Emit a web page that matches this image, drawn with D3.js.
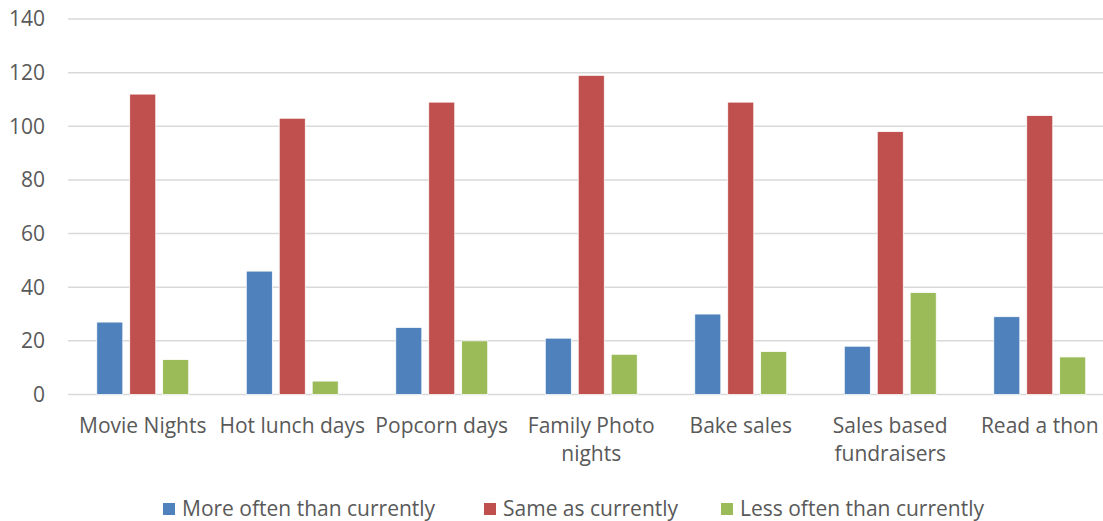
<!DOCTYPE html>
<html>
<head>
<meta charset="utf-8">
<script src="https://cdn.jsdelivr.net/npm/d3@7"></script>
<style>
  body { margin: 0; background: #fff; }
  text { font-family: "Open Sans", "Noto Sans", sans-serif; fill: #595959; }
</style>
</head>
<body>
<div id="chart"></div>
<script>
// data
var categories = ["Movie Nights", "Hot lunch days", "Popcorn days", "Family Photo nights", "Bake sales", "Sales based fundraisers", "Read a thon"];
var seriesNames = ["More often than currently", "Same as currently", "Less often than currently"];
var moreOften = [27, 46, 25, 21, 30, 18, 29];
var sameAs = [112, 103, 109, 119, 109, 98, 104];
var lessOften = [13, 5, 20, 15, 16, 38, 14];
var yTicks = [0, 20, 40, 60, 80, 100, 120, 140];
var colors = ["#4f81bd", "#c0504d", "#9bbb59"];

var seriesValues = [moreOften, sameAs, lessOften];

var W = 1103, H = 521;
var svg = d3.select("#chart").append("svg")
  .attr("width", W).attr("height", H);

// plot area (right edge runs past the window like the original crop)
var plotL = 68, plotR = 1114.5, plotT = 19, plotB = 394.5;

var x = d3.scaleBand().domain(categories).range([plotL, plotR])
  .paddingInner(0.385).paddingOuter(0.1925);
var xs = d3.scaleBand().domain(d3.range(3)).range([0, x.bandwidth()]).paddingInner(0.21);
var y = d3.scaleLinear().domain([0, 140]).range([plotB, plotT]);

// gridlines
svg.append("g").selectAll("line").data(yTicks).enter().append("line")
  .attr("x1", plotL).attr("x2", plotR)
  .attr("y1", function(d){ return y(d); }).attr("y2", function(d){ return y(d); })
  .attr("stroke", "#d9d9d9").attr("stroke-width", 1.5);

// y labels
svg.append("g").selectAll("text").data(yTicks).enter().append("text")
  .attr("x", 45).attr("y", function(d){ return y(d); })
  .attr("dy", "0.35em").attr("text-anchor", "end")
  .style("font-size", "21px")
  .text(function(d){ return d; });

// bars
var rows = categories.map(function(c, i){
  return seriesValues.map(function(vals, s){ return {cat: c, s: s, v: vals[i]}; });
});
svg.append("g").selectAll("g").data(rows).enter().append("g")
  .attr("transform", function(d){ return "translate(" + x(d[0].cat) + ",0)"; })
  .selectAll("rect").data(function(d){ return d; }).enter().append("rect")
  .attr("x", function(d){ return xs(d.s); })
  .attr("width", xs.bandwidth())
  .attr("y", function(d){ return y(d.v); })
  .attr("height", function(d){ return y(0) - y(d.v); })
  .attr("fill", function(d){ return colors[d.s]; })
  .attr("stroke", "#fff").attr("stroke-width", 0.75);

// category labels, wrapped to the band step
var step = x.step();
var labels = svg.append("g").selectAll("text").data(categories).enter().append("text")
  .attr("x", function(d){ return x(d) + x.bandwidth() / 2; })
  .attr("y", 433)
  .attr("text-anchor", "middle")
  .style("font-size", "21px");
labels.each(function(d){
  var t = d3.select(this), words = d.split(" "), line = [];
  var ts = t.append("tspan").attr("x", t.attr("x")).attr("dy", 0);
  words.forEach(function(w){
    line.push(w);
    ts.text(line.join(" "));
    if (ts.node().getComputedTextLength() > step && line.length > 1) {
      line.pop();
      ts.text(line.join(" "));
      line = [w];
      ts = t.append("tspan").attr("x", t.attr("x")).attr("dy", "1.32em").text(w);
    }
  });
});

// legend
var legendX = [163, 484, 721];
var lg = svg.append("g").selectAll("g").data(seriesNames).enter().append("g")
  .attr("transform", function(d, i){ return "translate(" + legendX[i] + ",509)"; });
lg.append("rect").attr("x", 0).attr("y", -6).attr("width", 12).attr("height", 12)
  .attr("fill", function(d, i){ return colors[i]; });
lg.append("text").attr("x", 19).attr("dy", "0.35em")
  .style("font-size", "21px")
  .text(function(d){ return d; });
</script>
</body>
</html>
